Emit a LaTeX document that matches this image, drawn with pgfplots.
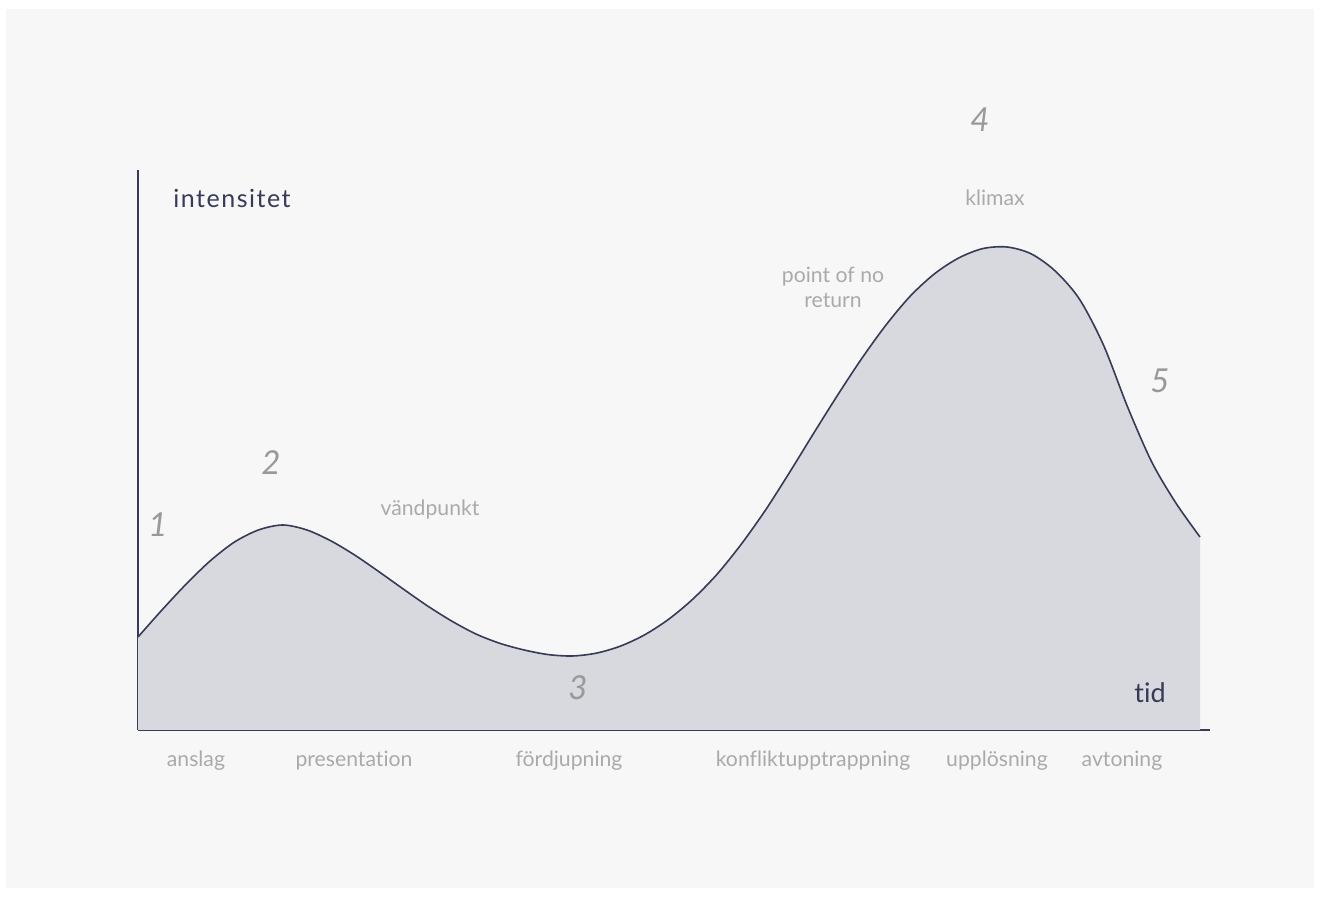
\documentclass[border=0pt]{standalone}
\usepackage{fontspec}
\setmainfont[Ligatures={NoCommon}]{Lato}
\usepackage{pgfplots}
\pgfplotsset{compat=1.18}
\usepackage{pgfplotstable}
\definecolor{navy}{HTML}{363B57}
\definecolor{fillc}{HTML}{D8D9DE}
\definecolor{bg}{HTML}{F7F7F7}
\definecolor{lbl}{HTML}{AAAAAA}
\definecolor{num}{HTML}{999999}
\newfontfamily\spaced[LetterSpace=6,Ligatures={NoCommon}]{Lato}
\pgfplotstableread{
x y
138 93
162.14 120.2
186.27 146
210.41 169.3
234.55 188
258.68 200.1
282.82 205
306.95 200
331.09 189
355.23 174.6
379.36 158
403.5 140.8
427.64 124
451.77 108.9
475.91 96
500.05 86.6
524.18 80
548.32 75.4
572.45 74
596.59 76.9
620.73 84
644.86 95.3
669 111
693.14 131.2
717.27 156
741.41 186
765.55 220
789.68 257.8
813.82 297
837.95 335.4
862.09 372
886.23 405.3
910.36 434
934.5 456.2
958.64 472
982.77 481.4
1006.91 483
1031.05 476.2
1055.18 459
1079.32 431
1103.45 385
1127.59 323
1151.73 268
1175.86 227
1200 193
}\curve
\begin{document}
\begin{tikzpicture}
\fill[white] (-69pt,-83.5pt) rectangle (591pt,365pt);
\fill[bg] (-66pt,-79pt) rectangle (588pt,360.5pt);
\begin{axis}[
  at={(0,0)}, anchor=south west,
  scale only axis, width=536pt, height=280pt,
  xmin=138, xmax=1210, ymin=0, ymax=560,
  axis x line=bottom, axis y line=left,
  axis line style={-, draw=navy, line width=1pt},
  xtick=\empty, ytick=\empty,
  clip=false,
]
\addplot[fill=fillc, draw=none, smooth] table[x=x,y=y]{\curve} \closedcycle;
\addplot[draw=navy, line width=0.8pt, smooth] table[x=x,y=y]{\curve};
% category labels
\foreach \xx/\tt in {196/anslag,354/presentation,569/fördjupning,813/konfliktupptrappning,997/upplösning,1122/avtoning}{
  \edef\tmp{\noexpand\node[text=lbl, font=\noexpand\fontsize{10.6}{12}\noexpand\selectfont] at (axis cs:\xx,-31) {\tt};}\tmp
}
\node[text=navy, font=\spaced\fontsize{12.5}{14}\selectfont] at (axis cs:232,532) {intensitet};
\node[text=navy, font=\fontsize{13.5}{15}\selectfont] at (axis cs:1150,37) {tid};
\node[text=num, font=\fontsize{16.5}{18}\selectfont\itshape] at (axis cs:158,205) {1};
\node[text=num, font=\fontsize{16.5}{18}\selectfont\itshape] at (axis cs:271,267) {2};
\node[text=num, font=\fontsize{16.5}{18}\selectfont\itshape] at (axis cs:578,42) {3};
\node[text=num, font=\fontsize{16.5}{18}\selectfont\itshape] at (axis cs:980,610) {4};
\node[text=num, font=\fontsize{16.5}{18}\selectfont\itshape] at (axis cs:1160,349) {5};
\node[text=lbl, font=\fontsize{10.6}{12}\selectfont] at (axis cs:430,220) {vändpunkt};
\node[text=lbl, font=\fontsize{10.6}{12}\selectfont] at (axis cs:995,532) {klimax};
\node[text=lbl, font=\fontsize{10.6}{12.5}\selectfont, align=center] at (axis cs:833,443) {point of no\\return};
\end{axis}
\end{tikzpicture}
\end{document}
